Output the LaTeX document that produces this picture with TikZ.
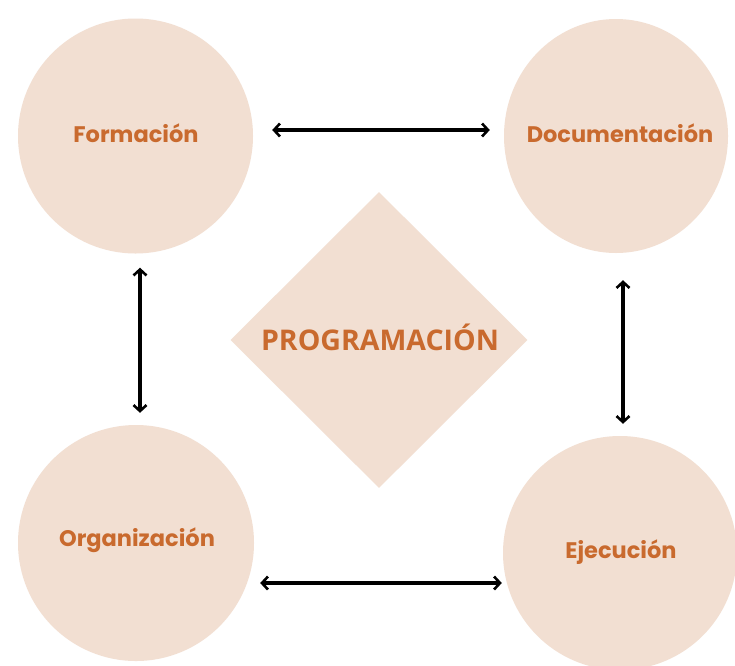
\documentclass[tikz,border=0pt]{standalone}
\usepackage{fontspec}
\setmainfont{Poppins}
\newfontfamily\progfont{Open Sans}
\usetikzlibrary{shapes.geometric,arrows.meta,backgrounds}
\definecolor{peach}{HTML}{F2DFD2}
\definecolor{rust}{HTML}{C96A2E}
\definecolor{faintline}{HTML}{F6F1EE}
\tikzset{
  bubble/.style={circle, fill=peach, inner sep=0pt, minimum size=235pt},
  bubbletext/.style={text=rust, font=\bfseries\fontsize{22.5}{26}\selectfont},
  centrebox/.style={diamond, fill=peach, inner sep=0pt, aspect=1,
    minimum width=297pt, minimum height=296pt},
  progtext/.style={text=rust, font=\progfont\bfseries\fontsize{28.5}{32}\selectfont},
  arr/.style={{Straight Barb[length=6pt,width=13pt,line width=2.6pt]}-{Straight Barb[length=6pt,width=13pt,line width=2.6pt]}, line width=3.2pt, black},
  faint/.style={line width=1.5pt, faintline}
}
\begin{document}
\begin{tikzpicture}[x=1pt,y=-1pt]
\useasboundingbox (0,0) rectangle (735,665);
\fill[white] (0,0) rectangle (735,665);
\node[bubble] (form) at (135.5,136) {};
\node[bubble, ellipse, minimum width=224pt, minimum height=234pt] (doc) at (616,136) {};
\node[bubble, minimum size=236pt] (org) at (136,543) {};
\node[bubble, minimum size=234pt] (eje) at (620,553) {};
\node[centrebox] (prog) at (379,340) {};
\node[bubbletext] (formtxt) at (136,133) {Formación};
\node[bubbletext] (doctxt) at (620,133) {Documentación};
\node[bubbletext] (orgtxt) at (137,540) {Organización};
\node[bubbletext] (ejetxt) at (621,552) {Ejecución};
\node[progtext] (progtxt) at (380,337) {PROGRAMACIÓN};
\begin{pgfonlayer}{background}
\draw[faint] (form.center) -- (prog.center);
\draw[faint] (doc.center) -- (prog.center);
\draw[faint] (org.center) -- (prog.center);
\draw[faint] (eje.center) -- (prog.center);
\end{pgfonlayer}
\draw[arr] ([xshift=19pt,yshift=6pt]form.east) -- ([xshift=-14pt,yshift=6pt]doc.west);
\draw[arr] ([xshift=6pt,yshift=-40pt]org.east) -- ([xshift=-1pt,yshift=-30pt]eje.west);
\draw[arr] ([xshift=4.5pt,yshift=-14pt]form.south) -- ([xshift=4pt,yshift=12pt]org.north);
\draw[arr] ([xshift=7pt,yshift=-27pt]doc.south) -- ([xshift=3pt,yshift=12pt]eje.north);
\end{tikzpicture}
\end{document}
